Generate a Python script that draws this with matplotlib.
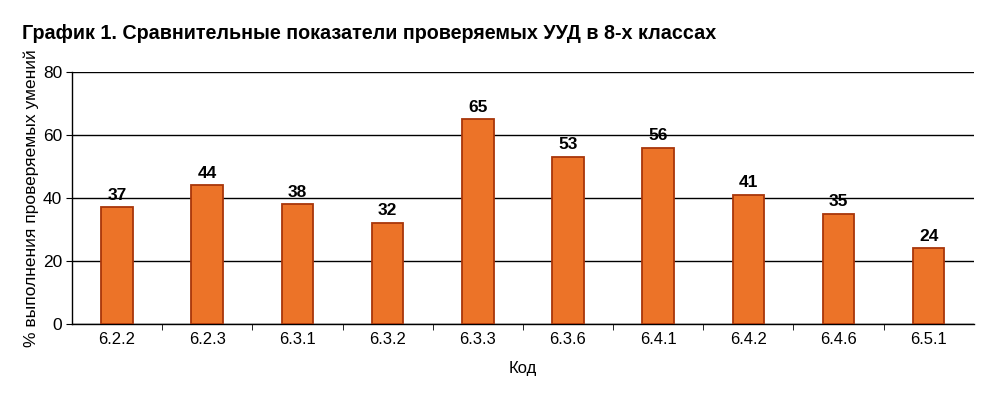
import matplotlib
matplotlib.use("Agg")
import matplotlib.pyplot as plt

categories = ["6.2.2", "6.2.3", "6.3.1", "6.3.2", "6.3.3", "6.3.6", "6.4.1", "6.4.2", "6.4.6", "6.5.1"]
values = [37, 44, 38, 32, 65, 53, 56, 41, 35, 24]
yticks = [0, 20, 40, 60, 80]

plt.rcParams['font.family'] = ['Liberation Sans', 'DejaVu Sans']

fig = plt.figure(figsize=(10.07, 3.93), dpi=100)
ax = fig.add_axes([0.0715, 0.1756, 0.8955, 0.6412])

x = list(range(len(categories)))
bars = ax.bar(x, values, width=0.35, color="#EC7328", edgecolor="#A8360A", linewidth=1.3, zorder=3)
for xi, v in zip(x, values):
    ax.text(xi, v + 1.5, str(v), ha="center", va="bottom", fontsize=12.5, fontweight="bold", color="black")

ax.set_xlim(-0.5, len(categories) - 0.5)
ax.set_ylim(0, 80)
ax.set_yticks(yticks)
ax.set_yticklabels([str(t) for t in yticks], fontsize=12.5)
ax.set_xticks(x)
ax.set_xticklabels(categories, fontsize=12)
ax.set_xticks([i + 0.5 for i in x[:-1]], minor=True)
ax.tick_params(axis="x", which="major", length=0, pad=6)
ax.tick_params(axis="x", which="minor", length=4, direction="out")
ax.tick_params(axis="y", length=4, direction="out", pad=3)
ax.grid(axis="y", color="black", linewidth=1.0, zorder=0)
for s in ["top", "right"]:
    ax.spines[s].set_visible(False)
ax.spines["left"].set_linewidth(1.0)
ax.spines["bottom"].set_linewidth(1.0)

ax.set_xlabel("Код", fontsize=12, labelpad=10)
ax.set_ylabel("% выполнения проверяемых умений", fontsize=12.5, labelpad=3)

fig.text(0.022, 0.915, "График 1. Сравнительные показатели проверяемых УУД в 8-х классах",
         fontsize=14.2, fontweight="bold", ha="left", va="center")

fig.savefig("out.png", dpi=100)
